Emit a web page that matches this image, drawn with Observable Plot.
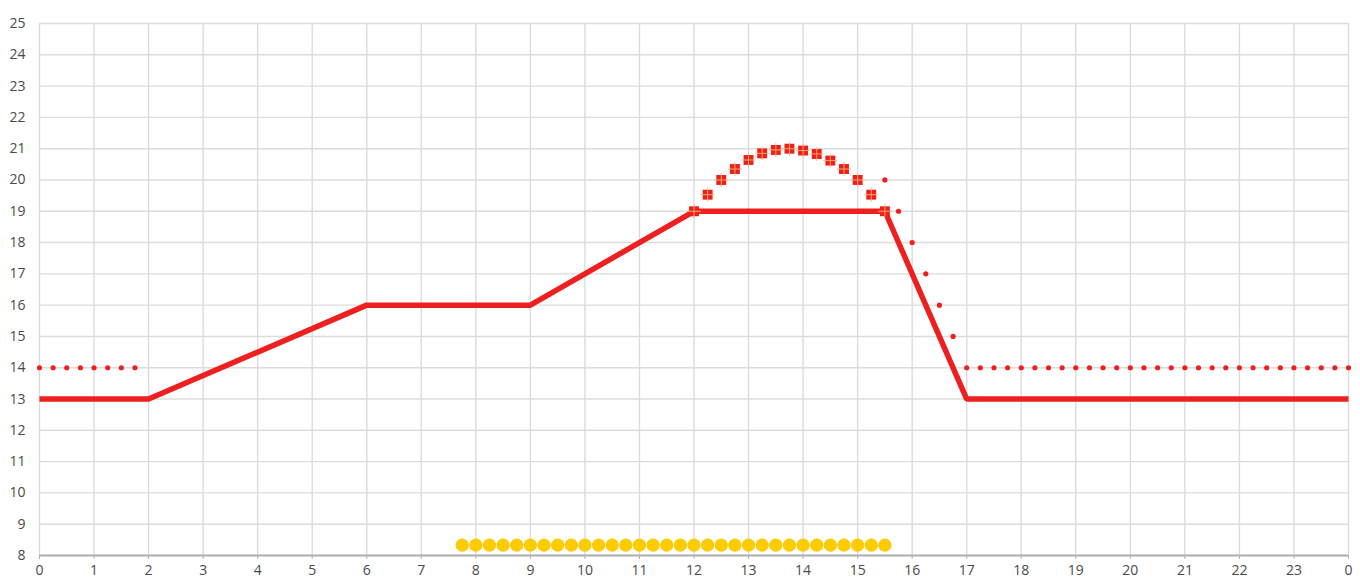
<!DOCTYPE html>
<html>
<head>
<meta charset="utf-8">
<script src="https://cdn.jsdelivr.net/npm/d3@7"></script>
<script src="https://cdn.jsdelivr.net/npm/@observablehq/plot@0.6"></script>
<style>
  html, body { margin: 0; padding: 0; background: #fff; }
  #chart svg { display: block; }
  #chart svg text { font-size: 14px; }
</style>
</head>
<body>
<div id="chart"></div>
<script>
// Tick labels
const xTicks = [0,1,2,3,4,5,6,7,8,9,10,11,12,13,14,15,16,17,18,19,20,21,22,23,24];
const yTicks = [8,9,10,11,12,13,14,15,16,17,18,19,20,21,22,23,24,25];

// Main schedule (solid line)
const mainX = [0, 2, 6, 9, 12, 15.5, 17, 24];
const mainY = [13, 13, 16, 16, 19, 19, 13, 13];

// Dotted series (left part)
const dotLeftX = [0, 0.25, 0.5, 0.75, 1, 1.25, 1.5, 1.75];
const dotLeftY = [14, 14, 14, 14, 14, 14, 14, 14];

// Dotted series (falling + right part)
const dotRightX = [15.5, 15.75, 16, 16.25, 16.5, 16.75, 17, 17.25, 17.5, 17.75, 18, 18.25, 18.5, 18.75, 19, 19.25, 19.5, 19.75, 20, 20.25, 20.5, 20.75, 21, 21.25, 21.5, 21.75, 22, 22.25, 22.5, 22.75, 23, 23.25, 23.5, 23.75, 24];
const dotRightY = [20, 19, 18, 17, 16, 15, 14, 14, 14, 14, 14, 14, 14, 14, 14, 14, 14, 14, 14, 14, 14, 14, 14, 14, 14, 14, 14, 14, 14, 14, 14, 14, 14, 14, 14];

// Arc of square markers
const arcX = [12, 12.25, 12.5, 12.75, 13, 13.25, 13.5, 13.75, 14, 14.25, 14.5, 14.75, 15, 15.25, 15.5];
const arcY = [19, 19.53, 20, 20.35, 20.64, 20.85, 20.96, 21, 20.94, 20.83, 20.62, 20.35, 20, 19.53, 19];

// Yellow dots along the bottom
const yellowX = [7.75, 8, 8.25, 8.5, 8.75, 9, 9.25, 9.5, 9.75, 10, 10.25, 10.5, 10.75, 11, 11.25, 11.5, 11.75, 12, 12.25, 12.5, 12.75, 13, 13.25, 13.5, 13.75, 14, 14.25, 14.5, 14.75, 15, 15.25, 15.5];
const yellowY = [8.33, 8.33, 8.33, 8.33, 8.33, 8.33, 8.33, 8.33, 8.33, 8.33, 8.33, 8.33, 8.33, 8.33, 8.33, 8.33, 8.33, 8.33, 8.33, 8.33, 8.33, 8.33, 8.33, 8.33, 8.33, 8.33, 8.33, 8.33, 8.33, 8.33, 8.33, 8.33];

const zip = (xs, ys) => xs.map((x, i) => ({x, y: ys[i]}));
const mainData = zip(mainX, mainY);
const dotData = zip(dotLeftX, dotLeftY).concat(zip(dotRightX, dotRightY));
const arcData = zip(arcX, arcY);
const yellowData = zip(yellowX, yellowY);

const RED = "#ee1f1f";

const chart = Plot.plot({
  width: 1360,
  height: 586,
  marginLeft: 39,
  marginRight: 12,
  marginTop: 23,
  marginBottom: 31,
  style: { fontFamily: "'Open Sans', 'DejaVu Sans', sans-serif", fontSize: "14px", color: "#4a4a4a", background: "#fff" },
  x: { domain: [0, 24] },
  y: { domain: [8, 25] },
  marks: [
    Plot.gridX(xTicks, { stroke: "#dcdcdc", strokeOpacity: 1, strokeWidth: 1.4 }),
    Plot.gridY(yTicks, { stroke: "#dcdcdc", strokeOpacity: 1, strokeWidth: 1.4 }),
    Plot.ruleY([8], { stroke: "#b0b0b0", strokeWidth: 2 }),
    Plot.axisX({ ticks: xTicks, tickFormat: d => String(d % 24), tickSize: 4, tickPadding: 6, stroke: "#b0b0b0", label: null, fill: "#4a4a4a", fontSize: 14 }),
    Plot.axisY({ ticks: yTicks, tickSize: 0, tickPadding: 14, label: null, fill: "#4a4a4a", fontSize: 14 }),
    Plot.line(mainData, { x: "x", y: "y", stroke: RED, strokeWidth: 5.5, strokeLinejoin: "miter", strokeLinecap: "butt" }),
    Plot.dot(dotData, { x: "x", y: "y", r: 2.6, fill: RED, stroke: "none" }),
    Plot.dot(arcData, { x: "x", y: "y", symbol: "square", r: 5.6, fill: RED, stroke: "none" }),
    Plot.dot(arcData, { x: "x", y: "y", symbol: "plus", r: 4.6, stroke: "#f6b766", strokeWidth: 0.9, fill: "none" }),
    Plot.dot(yellowData, { x: "x", y: "y", r: 6.6, fill: "#fccb00", stroke: "none" })
  ]
});
document.getElementById("chart").appendChild(chart);
</script>
</body>
</html>
